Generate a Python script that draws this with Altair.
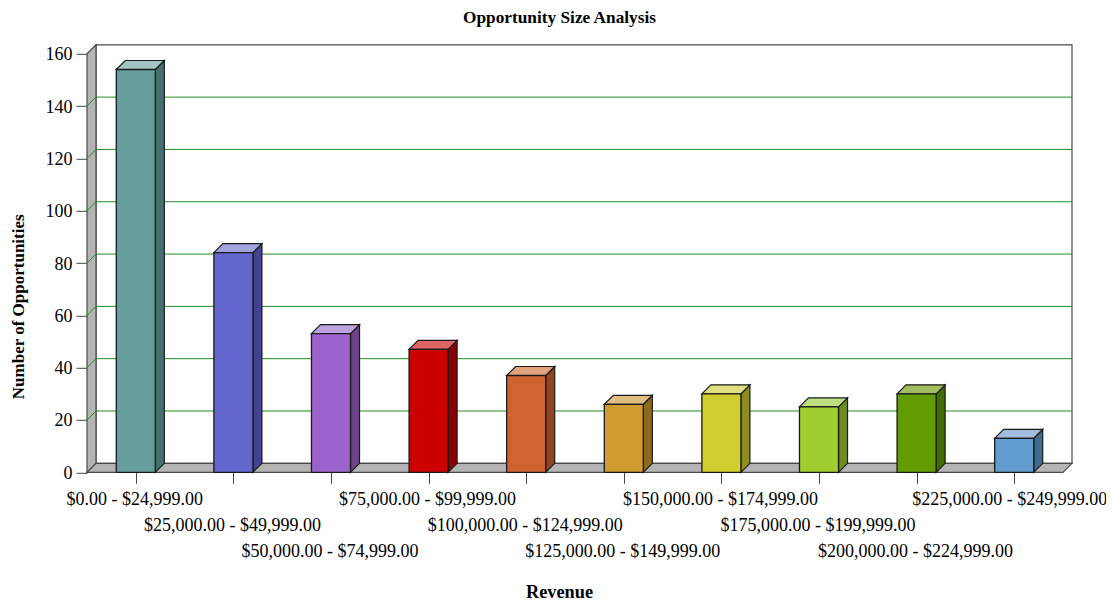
import altair as alt
import json
import pandas as pd

categories = ["$0.00 - $24,999.00", "$25,000.00 - $49,999.00", "$50,000.00 - $74,999.00",
              "$75,000.00 - $99,999.00", "$100,000.00 - $124,999.00", "$125,000.00 - $149,999.00",
              "$150,000.00 - $174,999.00", "$175,000.00 - $199,999.00", "$200,000.00 - $224,999.00",
              "$225,000.00 - $249,999.00"]
values = [154, 84, 53, 47, 37, 26, 30, 25, 30, 13]
front_colors = ["#669E9E", "#6366CC", "#9C63CC", "#CC0000", "#CF6331",
                "#CF9C30", "#CFCE2F", "#9ECE30", "#639C00", "#639CCF"]
side_colors = ["#46706F", "#42448F", "#6B4389", "#8B0000", "#8F4423",
               "#8F6B20", "#8E8D20", "#6C8D20", "#426B00", "#426B8F"]
top_colors = ["#A2C4C3", "#A2A4DD", "#BDA2DD", "#DF6464", "#E0A27F",
              "#E0BE80", "#DFDF7F", "#BEDF7F", "#A2BE60", "#A2BEDF"]
y_ticks = [0, 20, 40, 60, 80, 100, 120, 140, 160]
grid_values = [20, 40, 60, 80, 100, 120, 140]

SERIF = "Liberation Serif"
DX = 9 / 97.6      # depth of the 3-D box in category units
DY = 9 / 2.6157    # depth of the 3-D box in value units
HALF = 0.2         # half bar width in category units
N = len(categories)
X_SCALE = alt.Scale(domain=[0, N + DX], nice=False, zero=False)
Y_SCALE = alt.Scale(domain=[0, 160 + DY], nice=False, zero=False)
EDGE = "#4A4A4A"
OUT = "#1A1A1A"
GREEN = "#268C26"


def X(field="x", **kw):
    return alt.X(f"{field}:Q", scale=X_SCALE, **kw)


def Y(field="y", **kw):
    return alt.Y(f"{field}:Q", scale=Y_SCALE, **kw)


# staggered tick labels: three rows, set through a per-label padding
label_expr = json.dumps(categories) + "[floor(datum.value)]"

axes_df = pd.DataFrame({"x": [0.0, N], "y": [0.0, 160.0]})
axes_layer = alt.Chart(axes_df).mark_point(opacity=0).encode(
    x=alt.X("x:Q", scale=X_SCALE, title="Revenue", axis=alt.Axis(
        values=[i + 0.5 for i in range(N)], labelExpr=label_expr, domain=False, grid=False,
        tickSize=11, tickColor="#444444", tickWidth=1,
        labelFont=SERIF, labelFontSize=18, labelColor="#000000", labelBaseline="top",
        labelPadding=alt.expr("7 + 26 * (floor(datum.value) % 3)"),
        labelOverlap=False, labelBound=False, labelFlush=False,
        labelLimit=0, labelAngle=0, labelOffset=alt.expr("datum.value > 9 ? -5 : -1.5"),
        titleFont=SERIF, titleFontSize=18.3, titleFontWeight="bold", titleColor="#000000",
        titleX=472, titleY=111, titleAnchor="middle", titleAlign="center")),
    y=alt.Y("y:Q", scale=Y_SCALE, title="Number of Opportunities", axis=alt.Axis(
        values=y_ticks, format="d", domain=False, grid=False,
        tickSize=11, tickColor="#444444", tickWidth=1,
        labelFont=SERIF, labelFontSize=18, labelColor="#000000", labelPadding=4, labelOffset=1,
        labelOverlap=False, labelBound=False, labelFlush=False,
        titleFont=SERIF, titleFontSize=17, titleFontWeight="bold", titleColor="#000000",
        titleX=-60, titleY=261.5, titleAnchor="middle", titleAlign="center")),
)

# back wall
back = alt.Chart(pd.DataFrame({"x": [DX], "x2": [N + DX], "y": [DY], "y2": [160 + DY]})).mark_rect(
    fill="white", stroke=EDGE, strokeWidth=1.2
).encode(x=X(), x2="x2:Q", y=Y(), y2="y2:Q")

# left wall
wall = alt.Chart(pd.DataFrame({"x": [0, DX], "y": [0, DY], "y2": [160, 160 + DY]})).mark_area(
    orient="vertical", fill="#B4B4B4", stroke=EDGE, strokeWidth=1.2
).encode(x=X(), y=Y(), y2="y2:Q")

# floor
floor_ = alt.Chart(pd.DataFrame({"x": [0, DX, N, N + DX], "y": [0, DY, DY, DY], "y2": [0, 0, 0, DY]})).mark_area(
    orient="vertical", fill="#B4B4B4", stroke=EDGE, strokeWidth=1.2
).encode(x=X(), y=Y(), y2="y2:Q")

# grid
grid_back = alt.Chart(pd.DataFrame({"x": [DX] * len(grid_values), "x2": [N + DX] * len(grid_values),
                                    "y": [g + DY for g in grid_values]})).mark_rule(
    color=GREEN, strokeWidth=1
).encode(x=X(), x2="x2:Q", y=Y())
slant_rows = []
for g in grid_values:
    slant_rows += [{"g": g, "x": 0, "y": g}, {"g": g, "x": DX, "y": g + DY}]
grid_slant = alt.Chart(pd.DataFrame(slant_rows)).mark_line(color=GREEN, strokeWidth=1).encode(
    x=X(), y=Y(), detail="g:N")

# bars
front_rows, side_rows, top_rows = [], [], []
for i, (c, v) in enumerate(zip(categories, values)):
    left, right = i + 0.5 - HALF, i + 0.5 + HALF
    front_rows.append({"c": c, "x": left, "x2": right, "y": 0, "y2": v})
    side_rows += [{"c": c, "x": right, "y": 0, "y2": v},
                  {"c": c, "x": right + DX, "y": DY, "y2": v + DY}]
    top_rows += [{"c": c, "x": left, "y": v, "y2": v},
                 {"c": c, "x": left + DX, "y": v, "y2": v + DY},
                 {"c": c, "x": right, "y": v, "y2": v + DY},
                 {"c": c, "x": right + DX, "y": v + DY, "y2": v + DY}]


def color(rng):
    return alt.Color("c:N", scale=alt.Scale(domain=categories, range=rng), legend=None)


side = alt.Chart(pd.DataFrame(side_rows)).mark_area(
    orient="vertical", stroke=OUT, strokeWidth=1.2
).encode(x=X(), y=Y(), y2="y2:Q", color=color(side_colors), detail="c:N")
top = alt.Chart(pd.DataFrame(top_rows)).mark_area(
    orient="vertical", stroke=OUT, strokeWidth=1.2
).encode(x=X(), y=Y(), y2="y2:Q", color=color(top_colors), detail="c:N")
front = alt.Chart(pd.DataFrame(front_rows)).mark_rect(
    stroke=OUT, strokeWidth=1.3
).encode(x=X(), x2="x2:Q", y=Y(), y2="y2:Q", color=color(front_colors))

chart = alt.layer(
    axes_layer, back, grid_back, wall, grid_slant, floor_, side, top, front
).resolve_scale(color="independent").properties(
    width=985,
    height=427.5,
    padding={"left": 79, "top": 36.8, "right": 34, "bottom": 130.7},
    autosize=alt.AutoSizeParams(type="none"),
    background="white",
    title=alt.TitleParams("Opportunity Size Analysis", font=SERIF, fontSize=17.3, fontWeight="bold",
                          color="#000000", anchor="middle", dx=-20, offset=16),
).configure_view(stroke=None).configure_axis(grid=False)

chart.save("out.html", embed_options={"renderer": "svg", "actions": False})
